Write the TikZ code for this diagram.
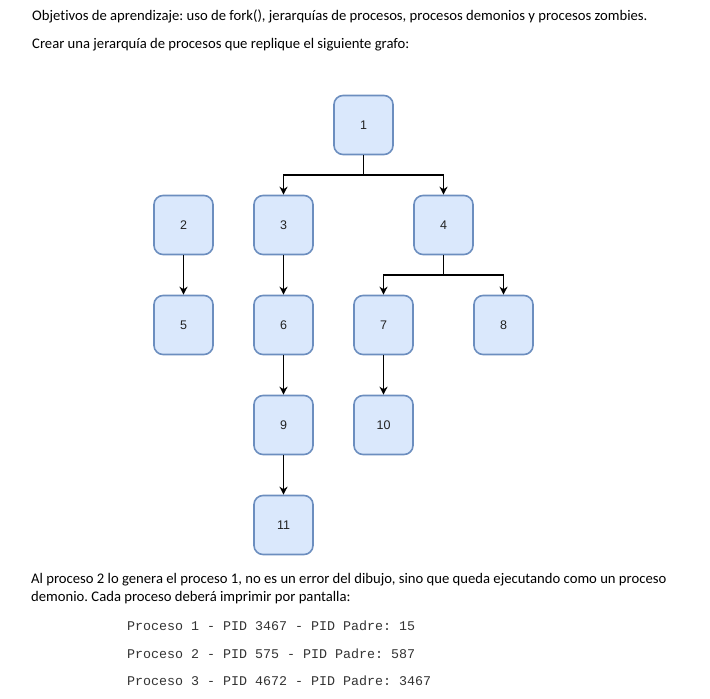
\documentclass[tikz,border=0pt]{standalone}
\usepackage{fontspec}
\setmainfont{Carlito}[Ligatures={NoCommon}]
\newfontfamily\boxfont{Liberation Sans}
\newfontfamily\monofont{Liberation Mono}
\usetikzlibrary{arrows.meta}
\definecolor{boxfill}{HTML}{DAE8FC}
\definecolor{boxdraw}{HTML}{6C8EBF}
\definecolor{labelcol}{HTML}{222222}
\tikzset{
  proc/.style={draw=boxdraw, fill=boxfill, line width=1.6pt, rounded corners=9pt,
    minimum width=59pt, minimum height=59pt, inner sep=0pt,
    font=\boxfont\fontsize{12.5}{14}\selectfont, text=labelcol},
  arr/.style={draw=black, line width=1.1pt, -{Stealth[length=8pt,width=8pt,inset=2.5pt]}},
  body/.style={anchor=base west, inner sep=0pt, font=\frenchspacing\fontsize{14.67}{17}\selectfont},
  mono/.style={anchor=base west, inner sep=0pt, font=\frenchspacing\monofont\fontsize{13.33}{15}\selectfont, text=black!80}
}
\begin{document}
\frenchspacing
\begin{tikzpicture}[x=1pt,y=-1pt]
\useasboundingbox (0,0) rectangle (710,699);
\node[body] (t1) at (32,20) {Objetivos de aprendizaje: uso de fork(), jerarquías de procesos, procesos demonios y procesos zombies.};
\node[body] (t2) at (32,48) {Crear una jerarquía de procesos que replique el siguiente grafo:};

\node[proc] (n1) at (363.5,125) {1};
\node[proc] (n2) at (183.5,225) {2};
\node[proc] (n3) at (283.5,225) {3};
\node[proc] (n4) at (443.5,225) {4};
\node[proc] (n5) at (183.5,325) {5};
\node[proc] (n6) at (283.5,325) {6};
\node[proc] (n7) at (383.5,325) {7};
\node[proc] (n8) at (503.5,325) {8};
\node[proc] (n9) at (283.5,425) {9};
\node[proc] (n10) at (383.5,425) {10};
\node[proc] (n11) at (283.5,525) {11};

\coordinate (j1) at (363.5,175);
\coordinate (j4) at (443.5,275);
\draw[arr] (n1.south) -- (j1) -| (n3.north);
\draw[arr] (n1.south) -- (j1) -| (n4.north);
\draw[arr] (n4.south) -- (j4) -| (n7.north);
\draw[arr] (n4.south) -- (j4) -| (n8.north);
\draw[arr] (n2) -- (n5);
\draw[arr] (n3) -- (n6);
\draw[arr] (n6) -- (n9);
\draw[arr] (n9) -- (n11);
\draw[arr] (n7) -- (n10);

\node[body] (t3) at (31,583) {Al proceso 2 lo genera el proceso 1, no es un error del dibujo, sino que queda ejecutando como un proceso};
\node[body] (t4) at (31,601) {demonio. Cada proceso deberá imprimir por pantalla:};
\node[mono] (m1) at (127,630) {Proceso 1 - PID 3467 - PID Padre: 15};
\node[mono] (m2) at (127,658) {Proceso 2 - PID 575 - PID Padre: 587};
\node[mono] (m3) at (127,685) {Proceso 3 - PID 4672 - PID Padre: 3467};
\end{tikzpicture}
\end{document}
